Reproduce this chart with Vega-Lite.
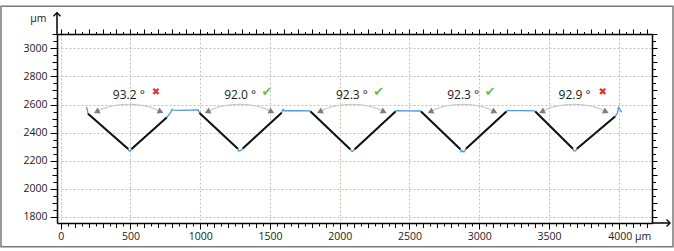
{
  "$schema": "https://vega.github.io/schema/vega-lite/v6.json",
  "width": 595,
  "height": 189,
  "autosize": {"type": "none"},
  "padding": {"left": 57, "top": 34, "right": 22, "bottom": 28},
  "background": "white",
  "config": {
    "view": {"stroke": null},
    "font": "Open Sans",
    "axis": {
      "labelFont": "Open Sans",
      "labelFontSize": 10.5,
      "labelColor": "#222222",
      "domainColor": "#000000",
      "domainWidth": 1.5,
      "tickColor": "#000000",
      "tickWidth": 1,
      "labelFlush": false,
      "labelOverlap": false,
      "labelBound": false,
      "gridColor": "#c9bdb6",
      "gridDash": [2, 2],
      "gridWidth": 1
    }
  },
  "datasets": {
    "profile": [
      {"x": 186, "y": 2582}, {"x": 190, "y": 2566}, {"x": 196, "y": 2535},
      {"x": 484, "y": 2284}, {"x": 488, "y": 2272}, {"x": 495, "y": 2268}, {"x": 503, "y": 2274}, {"x": 508, "y": 2284},
      {"x": 760, "y": 2508}, {"x": 788, "y": 2542}, {"x": 798, "y": 2566}, {"x": 806, "y": 2560}, {"x": 860, "y": 2558}, {"x": 930, "y": 2560}, {"x": 986, "y": 2562}, {"x": 995, "y": 2540},
      {"x": 1270, "y": 2285}, {"x": 1276, "y": 2270}, {"x": 1288, "y": 2272}, {"x": 1298, "y": 2278}, {"x": 1305, "y": 2287},
      {"x": 1584, "y": 2542}, {"x": 1594, "y": 2566}, {"x": 1602, "y": 2556}, {"x": 1700, "y": 2557}, {"x": 1786, "y": 2555}, {"x": 1791, "y": 2550},
      {"x": 2075, "y": 2282}, {"x": 2082, "y": 2270}, {"x": 2094, "y": 2268}, {"x": 2102, "y": 2276}, {"x": 2108, "y": 2282},
      {"x": 2400, "y": 2550}, {"x": 2406, "y": 2556}, {"x": 2500, "y": 2555}, {"x": 2578, "y": 2554}, {"x": 2583, "y": 2550},
      {"x": 2865, "y": 2282}, {"x": 2870, "y": 2264}, {"x": 2880, "y": 2270}, {"x": 2890, "y": 2262}, {"x": 2898, "y": 2274}, {"x": 2905, "y": 2285},
      {"x": 3195, "y": 2550}, {"x": 3200, "y": 2557}, {"x": 3300, "y": 2557}, {"x": 3396, "y": 2555}, {"x": 3402, "y": 2550},
      {"x": 3672, "y": 2285}, {"x": 3677, "y": 2270}, {"x": 3690, "y": 2270}, {"x": 3696, "y": 2277}, {"x": 3700, "y": 2285},
      {"x": 3974, "y": 2515}, {"x": 3990, "y": 2538}, {"x": 3998, "y": 2578}, {"x": 4006, "y": 2570}, {"x": 4022, "y": 2545}
    ],
    "fits": [
      {"seg": 1, "x": 196, "y": 2535}, {"seg": 1, "x": 484, "y": 2284},
      {"seg": 2, "x": 508, "y": 2284}, {"seg": 2, "x": 760, "y": 2508},
      {"seg": 3, "x": 995, "y": 2540}, {"seg": 3, "x": 1270, "y": 2285},
      {"seg": 4, "x": 1305, "y": 2287}, {"seg": 4, "x": 1584, "y": 2542},
      {"seg": 5, "x": 1791, "y": 2550}, {"seg": 5, "x": 2075, "y": 2282},
      {"seg": 6, "x": 2108, "y": 2282}, {"seg": 6, "x": 2400, "y": 2550},
      {"seg": 7, "x": 2583, "y": 2550}, {"seg": 7, "x": 2865, "y": 2282},
      {"seg": 8, "x": 2905, "y": 2285}, {"seg": 8, "x": 3195, "y": 2550},
      {"seg": 9, "x": 3402, "y": 2550}, {"seg": 9, "x": 3672, "y": 2285},
      {"seg": 10, "x": 3700, "y": 2285}, {"seg": 10, "x": 3974, "y": 2515}
    ],
    "arcs": [
      {"v": 1, "x": 257, "y": 2551}, {"v": 1, "x": 312, "y": 2573}, {"v": 1, "x": 369, "y": 2589}, {"v": 1, "x": 427, "y": 2599}, {"v": 1, "x": 487, "y": 2602}, {"v": 1, "x": 547, "y": 2599}, {"v": 1, "x": 605, "y": 2589}, {"v": 1, "x": 662, "y": 2573}, {"v": 1, "x": 717, "y": 2551},
      {"v": 2, "x": 1052, "y": 2551}, {"v": 2, "x": 1107, "y": 2573}, {"v": 2, "x": 1164, "y": 2589}, {"v": 2, "x": 1222, "y": 2599}, {"v": 2, "x": 1282, "y": 2602}, {"v": 2, "x": 1342, "y": 2599}, {"v": 2, "x": 1400, "y": 2589}, {"v": 2, "x": 1457, "y": 2573}, {"v": 2, "x": 1512, "y": 2551},
      {"v": 3, "x": 1857, "y": 2551}, {"v": 3, "x": 1912, "y": 2573}, {"v": 3, "x": 1969, "y": 2589}, {"v": 3, "x": 2027, "y": 2599}, {"v": 3, "x": 2087, "y": 2602}, {"v": 3, "x": 2147, "y": 2599}, {"v": 3, "x": 2205, "y": 2589}, {"v": 3, "x": 2262, "y": 2573}, {"v": 3, "x": 2317, "y": 2551},
      {"v": 4, "x": 2650, "y": 2551}, {"v": 4, "x": 2705, "y": 2573}, {"v": 4, "x": 2762, "y": 2589}, {"v": 4, "x": 2820, "y": 2599}, {"v": 4, "x": 2880, "y": 2602}, {"v": 4, "x": 2940, "y": 2599}, {"v": 4, "x": 2998, "y": 2589}, {"v": 4, "x": 3055, "y": 2573}, {"v": 4, "x": 3110, "y": 2551},
      {"v": 5, "x": 3449, "y": 2551}, {"v": 5, "x": 3504, "y": 2573}, {"v": 5, "x": 3561, "y": 2589}, {"v": 5, "x": 3619, "y": 2599}, {"v": 5, "x": 3679, "y": 2602}, {"v": 5, "x": 3739, "y": 2599}, {"v": 5, "x": 3797, "y": 2589}, {"v": 5, "x": 3854, "y": 2573}, {"v": 5, "x": 3909, "y": 2551}
    ],
    "heads": [
      {"side": "left", "x": 257, "y": 2549}, {"side": "right", "x": 717, "y": 2549},
      {"side": "left", "x": 1052, "y": 2549}, {"side": "right", "x": 1512, "y": 2549},
      {"side": "left", "x": 1857, "y": 2549}, {"side": "right", "x": 2317, "y": 2549},
      {"side": "left", "x": 2650, "y": 2549}, {"side": "right", "x": 3110, "y": 2549},
      {"side": "left", "x": 3449, "y": 2549}, {"side": "right", "x": 3909, "y": 2549}
    ],
    "labels": [
      {"x": 488, "y": 2665, "text": "93.2 °", "mx": 682, "my": 2688, "status": "fail"},
      {"x": 1287, "y": 2665, "text": "92.0 °", "mx": 1479, "my": 2692, "status": "pass"},
      {"x": 2088, "y": 2665, "text": "92.3 °", "mx": 2280, "my": 2692, "status": "pass"},
      {"x": 2885, "y": 2665, "text": "92.3 °", "mx": 3079, "my": 2692, "status": "pass"},
      {"x": 3684, "y": 2665, "text": "92.9 °", "mx": 3886, "my": 2688, "status": "fail"}
    ]
  },
  "resolve": {"scale": {"x": "shared", "y": "shared"}, "axis": {"x": "independent", "y": "independent"}},
  "layer": [
    {
      "data": {"values": [{}]},
      "mark": {"type": "rect", "fillOpacity": 0, "stroke": "#7a7a7a", "strokeWidth": 1.5, "clip": false},
      "encoding": {
        "x": {"datum": -428, "type": "quantitative", "scale": {"domain": [-26.5, 4238.7], "nice": false, "zero": false}, "axis": null},
        "x2": {"datum": 4389},
        "y": {"datum": 3300, "type": "quantitative", "scale": {"domain": [1757, 3102], "nice": false, "zero": false}, "axis": null},
        "y2": {"datum": 1588}
      }
    },
    {
      "data": {"name": "profile"},
      "mark": {"type": "line", "color": "#4f95da", "strokeWidth": 1.3},
      "encoding": {
        "x": {
          "field": "x", "type": "quantitative",
          "scale": {"domain": [-26.5, 4238.7], "nice": false, "zero": false},
          "axis": {
            "orient": "bottom", "title": null, "format": "d",
            "values": [0,50,100,150,200,250,300,350,400,450,500,550,600,650,700,750,800,850,900,950,1000,1050,1100,1150,1200,1250,1300,1350,1400,1450,1500,1550,1600,1650,1700,1750,1800,1850,1900,1950,2000,2050,2100,2150,2200,2250,2300,2350,2400,2450,2500,2550,2600,2650,2700,2750,2800,2850,2900,2950,3000,3050,3100,3150,3200,3250,3300,3350,3400,3450,3500,3550,3600,3650,3700,3750,3800,3850,3900,3950,4000,4050,4100,4150,4200],
            "labelExpr": "datum.value % 500 === 0 ? (datum.value === 4000 ? '4000 µm' : datum.label) : ''",
            "labelAlign": {"condition": {"test": "datum.value === 4000", "value": "left"}, "value": "center"},
            "labelOffset": {"condition": {"test": "datum.value === 4000", "value": -11}, "value": 0},
            "labelPadding": 2,
            "grid": true,
            "gridOpacity": {"condition": {"test": "datum.value % 500 === 0", "value": 1}, "value": 0},
            "tickSize": {"condition": [{"test": "datum.value % 500 === 0", "value": 6}, {"test": "datum.value % 100 === 0", "value": 4.5}], "value": 3}
          }
        },
        "y": {
          "field": "y", "type": "quantitative",
          "scale": {"domain": [1757, 3102], "nice": false, "zero": false},
          "axis": {
            "orient": "left", "format": "d",
            "values": [1800,1850,1900,1950,2000,2050,2100,2150,2200,2250,2300,2350,2400,2450,2500,2550,2600,2650,2700,2750,2800,2850,2900,2950,3000,3050,3100],
            "labelExpr": "datum.value % 200 === 0 ? datum.label : ''",
            "labelPadding": 3,
            "grid": true,
            "gridOpacity": {"condition": {"test": "datum.value % 200 === 0", "value": 1}, "value": 0},
            "tickSize": {"condition": [{"test": "datum.value % 200 === 0", "value": 7}, {"test": "datum.value % 100 === 0", "value": 5}], "value": 4},
            "title": "µm", "titleAngle": 0, "titleAlign": "right", "titleBaseline": "middle",
            "titleX": -11, "titleY": -16, "titleFont": "Open Sans", "titleFontSize": 10.5, "titleFontWeight": "normal", "titleColor": "#222222"
          }
        }
      }
    },
    {
      "data": {"name": "arcs"},
      "mark": {"type": "line", "color": "#c4c4c4", "strokeWidth": 1.1, "interpolate": "monotone"},
      "encoding": {
        "x": {"field": "x", "type": "quantitative", "scale": {"domain": [-26.5, 4238.7], "nice": false, "zero": false}, "axis": null},
        "y": {"field": "y", "type": "quantitative", "scale": {"domain": [1757, 3102], "nice": false, "zero": false}, "axis": null},
        "detail": {"field": "v"}
      }
    },
    {
      "data": {"name": "heads"},
      "transform": [{"filter": "datum.side === 'left'"}],
      "mark": {"type": "point", "shape": "triangle-left", "filled": true, "color": "#7c7c7c", "size": 45, "angle": -25, "opacity": 1},
      "encoding": {
        "x": {"field": "x", "type": "quantitative", "scale": {"domain": [-26.5, 4238.7], "nice": false, "zero": false}, "axis": null},
        "y": {"field": "y", "type": "quantitative", "scale": {"domain": [1757, 3102], "nice": false, "zero": false}, "axis": null}
      }
    },
    {
      "data": {"name": "heads"},
      "transform": [{"filter": "datum.side === 'right'"}],
      "mark": {"type": "point", "shape": "triangle-right", "filled": true, "color": "#7c7c7c", "size": 45, "angle": 25, "opacity": 1},
      "encoding": {
        "x": {"field": "x", "type": "quantitative", "scale": {"domain": [-26.5, 4238.7], "nice": false, "zero": false}, "axis": null},
        "y": {"field": "y", "type": "quantitative", "scale": {"domain": [1757, 3102], "nice": false, "zero": false}, "axis": null}
      }
    },
    {
      "data": {"name": "fits"},
      "mark": {"type": "line", "color": "#111111", "strokeWidth": 2},
      "encoding": {
        "x": {
          "field": "x", "type": "quantitative",
          "scale": {"domain": [-26.5, 4238.7], "nice": false, "zero": false},
          "axis": {
            "orient": "top", "title": null, "labels": false, "grid": false,
            "values": [0,50,100,150,200,250,300,350,400,450,500,550,600,650,700,750,800,850,900,950,1000,1050,1100,1150,1200,1250,1300,1350,1400,1450,1500,1550,1600,1650,1700,1750,1800,1850,1900,1950,2000,2050,2100,2150,2200,2250,2300,2350,2400,2450,2500,2550,2600,2650,2700,2750,2800,2850,2900,2950,3000,3050,3100,3150,3200,3250,3300,3350,3400,3450,3500,3550,3600,3650,3700,3750,3800,3850,3900,3950,4000,4050,4100,4150,4200],
            "tickSize": {"condition": {"test": "datum.value % 100 === 0", "value": 5}, "value": 2.5}
          }
        },
        "y": {
          "field": "y", "type": "quantitative",
          "scale": {"domain": [1757, 3102], "nice": false, "zero": false},
          "axis": {
            "orient": "right", "title": null, "labels": false, "grid": false,
            "values": [1800,1850,1900,1950,2000,2050,2100,2150,2200,2250,2300,2350,2400,2450,2500,2550,2600,2650,2700,2750,2800,2850,2900,2950,3000,3050,3100],
            "tickSize": {"condition": {"test": "datum.value % 100 === 0", "value": 5}, "value": 3.5}
          }
        },
        "detail": {"field": "seg"}
      }
    },
    {
      "data": {"name": "labels"},
      "mark": {"type": "text", "font": "Open Sans", "fontSize": 12, "color": "#1a1a1a", "align": "center", "baseline": "middle"},
      "encoding": {
        "x": {"field": "x", "type": "quantitative", "scale": {"domain": [-26.5, 4238.7], "nice": false, "zero": false}, "axis": null},
        "y": {"field": "y", "type": "quantitative", "scale": {"domain": [1757, 3102], "nice": false, "zero": false}, "axis": null},
        "text": {"field": "text"}
      }
    },
    {
      "data": {"name": "labels"},
      "transform": [{"filter": "datum.status === 'pass'"}],
      "mark": {"type": "text", "font": "DejaVu Sans", "fontSize": 13, "color": "#6cbf45", "align": "center", "baseline": "middle", "text": "✔"},
      "encoding": {
        "x": {"field": "mx", "type": "quantitative", "scale": {"domain": [-26.5, 4238.7], "nice": false, "zero": false}, "axis": null},
        "y": {"field": "my", "type": "quantitative", "scale": {"domain": [1757, 3102], "nice": false, "zero": false}, "axis": null}
      }
    },
    {
      "data": {"name": "labels"},
      "transform": [{"filter": "datum.status === 'fail'"}],
      "mark": {"type": "text", "font": "DejaVu Sans", "fontSize": 10, "color": "#e53030", "align": "center", "baseline": "middle", "text": "✖"},
      "encoding": {
        "x": {"field": "mx", "type": "quantitative", "scale": {"domain": [-26.5, 4238.7], "nice": false, "zero": false}, "axis": null},
        "y": {"field": "my", "type": "quantitative", "scale": {"domain": [1757, 3102], "nice": false, "zero": false}, "axis": null}
      }
    },
    {
      "data": {"values": [{}]},
      "mark": {"type": "rule", "color": "#000000", "strokeWidth": 1.5, "clip": false},
      "encoding": {
        "x": {"datum": -26.5, "type": "quantitative", "scale": {"domain": [-26.5, 4238.7], "nice": false, "zero": false}, "axis": null},
        "y": {"datum": 3102, "type": "quantitative", "scale": {"domain": [1757, 3102], "nice": false, "zero": false}, "axis": null},
        "y2": {"datum": 3253}
      }
    },
    {
      "data": {"values": [{}]},
      "mark": {"type": "rule", "color": "#000000", "strokeWidth": 1.5, "clip": false},
      "encoding": {
        "x": {"datum": 4238.7, "type": "quantitative", "scale": {"domain": [-26.5, 4238.7], "nice": false, "zero": false}, "axis": null},
        "x2": {"datum": 4368},
        "y": {"datum": 1757, "type": "quantitative", "scale": {"domain": [1757, 3102], "nice": false, "zero": false}, "axis": null}
      }
    },
    {
      "data": {"values": [{}]},
      "mark": {"type": "point", "shape": "M-1,1L0,0L1,1", "filled": false, "stroke": "#000000", "strokeWidth": 1.3, "size": 49, "opacity": 1, "clip": false},
      "encoding": {
        "x": {"datum": -26.5, "type": "quantitative", "scale": {"domain": [-26.5, 4238.7], "nice": false, "zero": false}, "axis": null},
        "y": {"datum": 3253, "type": "quantitative", "scale": {"domain": [1757, 3102], "nice": false, "zero": false}, "axis": null}
      }
    },
    {
      "data": {"values": [{}]},
      "mark": {"type": "point", "shape": "M-1,-1L0,0L-1,1", "filled": false, "stroke": "#000000", "strokeWidth": 1.3, "size": 49, "opacity": 1, "clip": false},
      "encoding": {
        "x": {"datum": 4368, "type": "quantitative", "scale": {"domain": [-26.5, 4238.7], "nice": false, "zero": false}, "axis": null},
        "y": {"datum": 1757, "type": "quantitative", "scale": {"domain": [1757, 3102], "nice": false, "zero": false}, "axis": null}
      }
    }
  ]
}
